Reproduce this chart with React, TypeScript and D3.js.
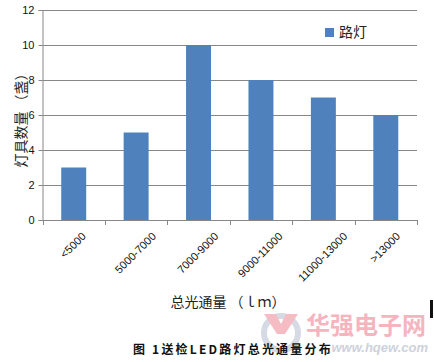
import React, { useRef, useEffect } from 'react';
import * as d3 from 'd3';

const categories = ['<5000', '5000-7000', '7000-9000', '9000-11000', '11000-13000', '>13000'];
const values = [3, 5, 10, 8, 7, 6];
const yTicks = [0, 2, 4, 6, 8, 10, 12];
const seriesName = '路灯';
const xTitle = '总光通量 （ｌｍ）';
const yTitle = '灯具数量 （盏）';
const caption = '图 1送检LED路灯总光通量分布';

const W = 434;
const H = 362;
const margin = { left: 42.5, right: 17, top: 10, bottom: 142 };
const cjk = '"Noto Sans CJK SC", sans-serif';
const latin = '"Liberation Sans", Arial, sans-serif';

const App = () => {
  const svgRef = useRef(null);

  useEffect(() => {
    const svg = d3.select(svgRef.current);
    svg.selectAll('*').remove();

    const x = d3
      .scaleBand()
      .domain(categories)
      .range([margin.left, W - margin.right])
      .paddingInner(0.6)
      .paddingOuter(0.3);
    const y = d3.scaleLinear().domain([0, 12]).range([H - margin.bottom, margin.top]);

    svg.append('rect').attr('width', W).attr('height', H).attr('fill', '#fff');

    // grid
    svg
      .append('g')
      .selectAll('line')
      .data(yTicks.filter((d) => d > 0))
      .enter()
      .append('line')
      .attr('x1', margin.left)
      .attr('x2', W - margin.right)
      .attr('y1', (d) => Math.round(y(d)) + 0.5)
      .attr('y2', (d) => Math.round(y(d)) + 0.5)
      .attr('stroke', '#878787');

    // bars
    svg
      .append('g')
      .selectAll('rect')
      .data(values)
      .enter()
      .append('rect')
      .attr('x', (d, i) => x(categories[i]))
      .attr('y', (d) => y(d))
      .attr('width', x.bandwidth())
      .attr('height', (d) => y(0) - y(d))
      .attr('fill', '#4f81bd');

    // y axis
    const yAxis = d3.axisLeft(y).tickValues(yTicks).tickSize(4).tickPadding(4);
    const yg = svg
      .append('g')
      .attr('transform', `translate(${margin.left},0)`)
      .call(yAxis);
    yg.selectAll('line,path').attr('stroke', '#878787');
    yg.selectAll('text').attr('font-family', latin).attr('font-size', 11).attr('fill', '#111');

    // x axis
    const step = (W - margin.right - margin.left) / categories.length;
    const xg = svg.append('g');
    xg.append('line')
      .attr('x1', margin.left)
      .attr('x2', W - margin.right)
      .attr('y1', y(0) + 0.5)
      .attr('y2', y(0) + 0.5)
      .attr('stroke', '#878787');
    xg.selectAll('.tick')
      .data(d3.range(categories.length + 1))
      .enter()
      .append('line')
      .attr('x1', (d) => Math.round(margin.left + d * step) + 0.5)
      .attr('x2', (d) => Math.round(margin.left + d * step) + 0.5)
      .attr('y1', y(0))
      .attr('y2', y(0) + 5)
      .attr('stroke', '#878787');

    const labels = xg
      .selectAll('.lbl')
      .data(categories)
      .enter()
      .append('text')
      .attr('font-family', latin)
      .attr('font-size', 11)
      .attr('fill', '#111')
      .attr('text-anchor', 'end')
      .text((d) => d);
    labels.attr('transform', function (d) {
      const len = (this as SVGTextElement).getComputedTextLength();
      const cx = x(d) + x.bandwidth() / 2 + len * 0.3535 + 2;
      return `translate(${cx},${y(0) + 17}) rotate(-45)`;
    });

    // titles
    svg
      .append('text')
      .attr('x', 228)
      .attr('y', 307)
      .attr('text-anchor', 'middle')
      .attr('font-family', cjk)
      .attr('font-size', 14)
      .attr('fill', '#222')
      .text(xTitle);
    svg
      .append('text')
      .attr('transform', 'translate(26,117) rotate(-90)')
      .attr('text-anchor', 'middle')
      .attr('font-family', cjk)
      .attr('font-size', 14)
      .attr('fill', '#222')
      .text(yTitle);

    // legend
    const lg = svg.append('g').attr('transform', 'translate(325,28)');
    lg.append('rect').attr('width', 9).attr('height', 9).attr('fill', '#4f81bd');
    lg.append('text')
      .attr('x', 14)
      .attr('y', 9)
      .attr('font-family', cjk)
      .attr('font-size', 14)
      .attr('fill', '#222')
      .text(seriesName);

    // watermark
    svg.append('circle').attr('cx', 281).attr('cy', 333).attr('r', 17).attr('fill', 'none').attr('stroke', '#d5dae4').attr('stroke-width', 6);
    svg.append('path').attr('d', 'M264,314 L276,314 L281,324 L286,314 L298,314 L285,334 L277,334 Z').attr('fill', '#f6bcc4');
    svg
      .append('text')
      .attr('x', 366)
      .attr('y', 334)
      .attr('text-anchor', 'middle')
      .attr('font-family', cjk)
      .attr('font-weight', 'bold')
      .attr('font-size', 24)
      .attr('fill', '#f6b4be')
      .text('华强电子网');
    svg
      .append('text')
      .attr('x', 428)
      .attr('y', 352)
      .attr('text-anchor', 'end')
      .attr('font-family', latin)
      .attr('font-weight', 'bold')
      .attr('font-style', 'italic')
      .attr('font-size', 13)
      .attr('fill', '#cdd2dc')
      .text('www.hqew.com');
    svg.append('rect').attr('x', 430).attr('y', 300).attr('width', 3).attr('height', 18).attr('fill', '#111');

    // caption
    svg
      .append('text')
      .attr('x', 133)
      .attr('y', 354)
      .attr('font-family', cjk)
      .attr('font-weight', 'bold')
      .attr('font-size', 12)
      .attr('letter-spacing', 2.2)
      .attr('fill', '#111')
      .text(caption);
  }, []);

  return (
    <svg
      ref={svgRef}
      width={W}
      height={H}
      style={{ position: 'absolute', left: 0, top: 0 }}
    />
  );
};

export default App;
